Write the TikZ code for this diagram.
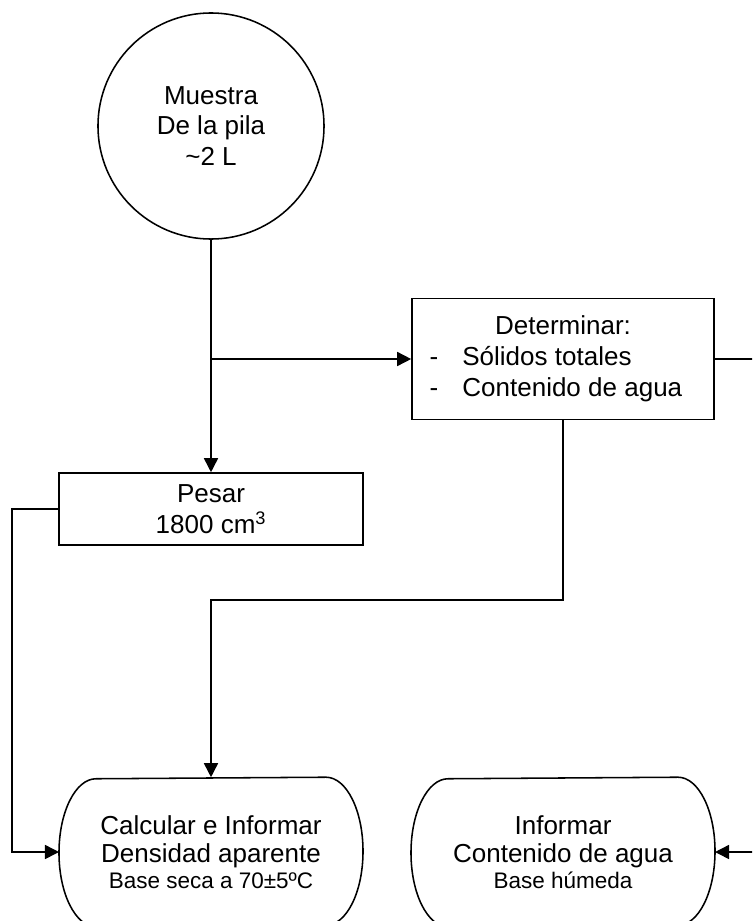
\documentclass[tikz,border=0pt]{standalone}
\usepackage{fontspec}
\setmainfont{Liberation Sans}
\usetikzlibrary{arrows.meta}

\begin{document}
\begin{tikzpicture}[x=0.025cm, y=-0.025cm, line width=1.1pt,
    every node/.style={font=\fontsize{18.5}{22}\selectfont, align=center},
    flecha/.style={-{Triangle[length=0.35cm,width=0.35cm]}},
    caja/.style={draw, rectangle, inner sep=0pt},
    circulo/.style={draw, circle, minimum size=5.65cm, inner sep=0pt},
    terminal/.style={rectangle, minimum width=7.56cm, minimum height=3.7cm, inner sep=0pt}]
  \useasboundingbox (0,0) rectangle (752,921);
  \clip (0,0) rectangle (752,921);
  % nodos
  \node[circulo] (muestra) at (211,126) {Muestra\\De la pila\\\textasciitilde2 L};
  \node[caja, minimum width=7.55cm, minimum height=3.025cm] (determinar) at (563,359)
    {\begin{tabular}{@{}l@{\hspace{0.6cm}}l@{}}
      \multicolumn{2}{@{}c@{}}{\hspace*{0.35cm}Determinar:}\\
      - & Sólidos totales\\
      - & Contenido de agua
    \end{tabular}\hspace*{0.35cm}};
  \node[caja, minimum width=7.6cm, minimum height=1.8cm] (pesar) at (211,509)
    {Pesar\\1800 cm\textsuperscript{3}};
  \node[terminal] (calcular) at (211,852)
    {Calcular e Informar\\[-2pt]Densidad aparente\\[-4pt]{\fontsize{16}{19}\selectfont Base seca a 70±5ºC}};
  \node[terminal] (informar) at (563,852)
    {Informar\\[-2pt]Contenido de agua\\[-4pt]{\fontsize{16}{19}\selectfont Base húmeda}};
  % contorno de los terminales
  \foreach \t in {calcular, informar} {
    \draw ([xshift=0.925cm]\t.south west)
      arc[start angle=270, end angle=90, x radius=0.925cm, y radius=1.85cm]
      -- ([xshift=-0.925cm]\t.north east)
      arc[start angle=90, end angle=-90, x radius=0.925cm, y radius=1.85cm]
      -- cycle;
  }
  % conectores
  \coordinate (der) at (765,0);
  \coordinate (izq) at (12,0);
  \coordinate (cruce) at (0,600);
  \draw[flecha] (muestra.south) -- (muestra.south |- pesar.north);
  \draw[flecha] (muestra.south |- determinar.west) -- (determinar.west);
  \draw[flecha] (determinar.east) -- (determinar.east -| der) |- (informar.east);
  \draw[flecha] (pesar.west) -- (pesar.west -| izq) |- (calcular.west);
  \draw[flecha] (determinar.south) -- (determinar.south |- cruce) -| (calcular.north);
\end{tikzpicture}
\end{document}
